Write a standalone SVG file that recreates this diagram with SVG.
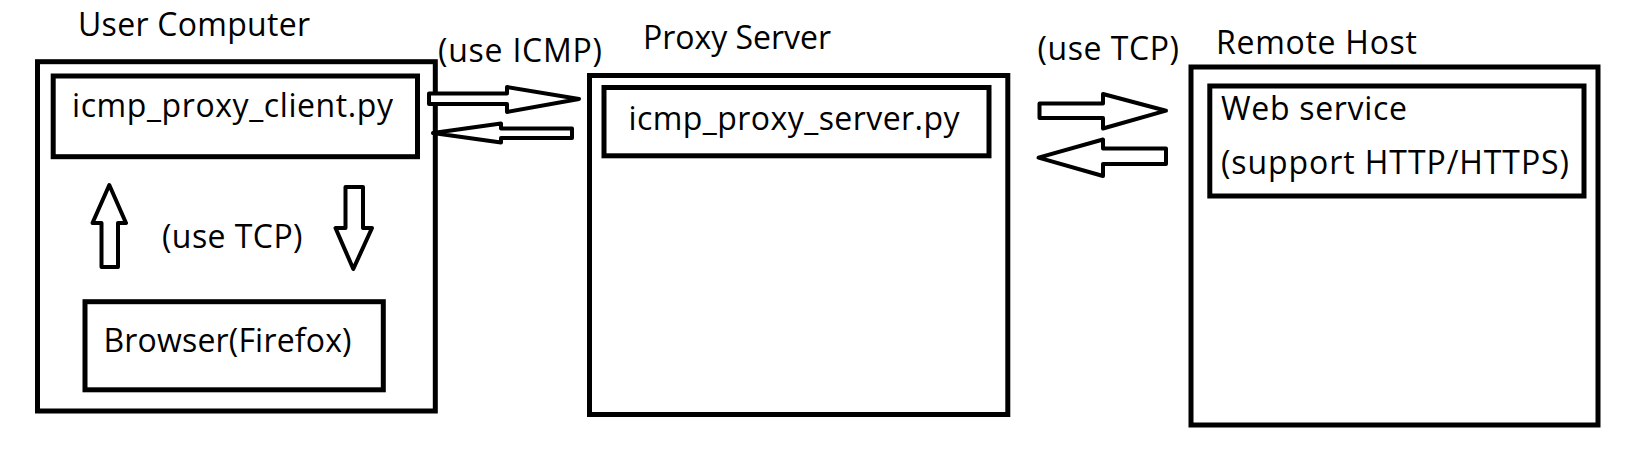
<svg xmlns="http://www.w3.org/2000/svg" width="1650" height="457" viewBox="0 0 1650 457">
  <style>
    .box { fill: none; stroke: #000; stroke-width: 5; }
    .arrow { fill: #fff; stroke: #000; stroke-width: 4; stroke-linejoin: round; }
    text { font-family: "Open Sans", "Noto Sans", "Liberation Sans", sans-serif; font-size: 32px; fill: #000; }
  </style>
  <rect width="1650" height="457" fill="#fff"/>

  <g id="user-computer">
    <text x="78" y="36" textLength="232">User Computer</text>
    <rect class="box" x="37.5" y="61.7" width="397.8" height="349.3"/>
  </g>
  <g id="icmp-proxy-client">
    <rect class="box" x="53.2" y="76" width="364.3" height="80.7"/>
    <text x="72" y="116.7" textLength="321">icmp_proxy_client.py</text>
  </g>
  <g id="browser">
    <rect class="box" x="85" y="301.7" width="298.3" height="88.1"/>
    <text x="103.5" y="351.7" textLength="248">Browser(Firefox)</text>
  </g>

  <g id="proxy-server">
    <text x="643" y="49.3" textLength="188">Proxy Server</text>
    <rect class="box" x="589.5" y="75.5" width="418.3" height="339"/>
  </g>
  <g id="icmp-proxy-server">
    <rect class="box" x="604" y="87.5" width="385" height="68.3"/>
    <text x="628.5" y="130" textLength="331">icmp_proxy_server.py</text>
  </g>

  <g id="remote-host">
    <text x="1216" y="54.3" textLength="201">Remote Host</text>
    <rect class="box" x="1191" y="67" width="407" height="358"/>
  </g>
  <g id="web-service">
    <rect class="box" x="1209.8" y="86" width="374.2" height="110"/>
    <text x="1221" y="120" textLength="186">Web service</text>
    <text x="1221" y="174" textLength="348">(support HTTP/HTTPS)</text>
  </g>

  <g id="connectors">
    <polygon class="arrow" points="429,93.5 507,93.5 507,87 579,99 507,112 507,104 429,104"/>
    <polygon class="arrow" points="433,133 501,123.5 501,128.5 572,128.5 572,138 501,138 501,142.5"/>
    <text x="438" y="61.7" textLength="164">(use ICMP)</text>

    <polygon class="arrow" points="1039.5,103.5 1103,103.5 1103,94 1166,110.7 1103,128.5 1103,118 1039.5,118"/>
    <polygon class="arrow" points="1038.5,157.7 1103,139.5 1103,148.5 1166,148.5 1166,164 1103,164 1103,176"/>
    <text x="1037.5" y="60" textLength="141.5">(use TCP)</text>

    <polygon class="arrow" points="109.3,185 126,223 118,223 118,267 101.5,267 101.5,223 92.5,223"/>
    <polygon class="arrow" points="345.5,187 363,187 363,228 372,228 353.3,269 335.5,228 345.5,228"/>
    <text x="162" y="248" textLength="140.5">(use TCP)</text>
  </g>
</svg>
